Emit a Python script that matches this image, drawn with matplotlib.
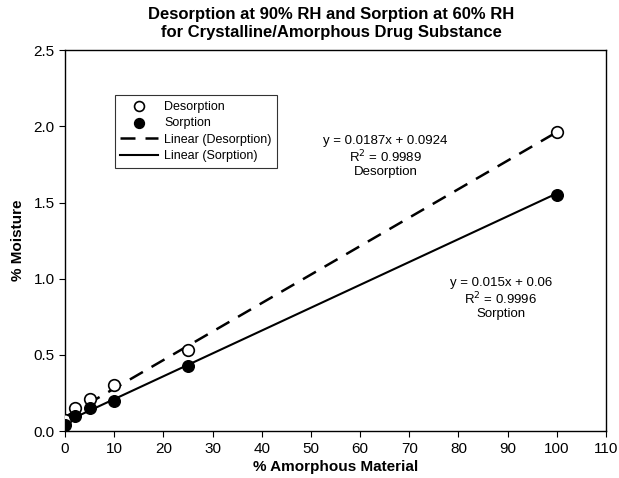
import matplotlib
matplotlib.use('Agg')
import matplotlib.pyplot as plt
import numpy as np

plt.rcParams['font.family'] = ['Liberation Sans', 'DejaVu Sans']

# data
amorphous = [0, 2, 5, 10, 25, 100]
desorption = [0.07, 0.15, 0.21, 0.30, 0.53, 1.96]
sorption = [0.04, 0.10, 0.15, 0.20, 0.43, 1.55]

# trendline coefficients (as printed on chart)
des_fit = (0.0187, 0.0924)
sorp_fit = (0.015, 0.06)

fig = plt.figure(figsize=(6.19, 4.78), dpi=100)
ax = fig.add_axes([0.105, 0.098, 0.874, 0.797])

# trendlines
xfit = np.array([0, 100])
ax.plot(xfit, des_fit[0] * xfit + des_fit[1], color='black', ls=(0, (6, 4)), lw=1.8,
        label='Linear (Desorption)', zorder=2)
ax.plot(xfit, sorp_fit[0] * xfit + sorp_fit[1], color='black', ls='-', lw=1.5,
        label='Linear (Sorption)', zorder=2)

# points
ax.scatter(amorphous, desorption, s=70, facecolor='white', edgecolor='black',
           lw=1.2, label='Desorption', zorder=3)
ax.scatter(amorphous, sorption, s=70, facecolor='black', edgecolor='black',
           label='Sorption', zorder=4)

ax.set_xlim(0, 110)
ax.set_ylim(0, 2.5)
ax.set_xticks(range(0, 111, 10))
ax.set_yticks(np.arange(0, 2.51, 0.5))
ax.set_yticklabels([f'{v:.1f}' for v in np.arange(0, 2.51, 0.5)])
ax.tick_params(direction='out', length=4, labelsize=11)
for s in ax.spines.values():
    s.set_linewidth(1.0)

ax.set_xlabel('% Amorphous Material', fontsize=11, fontweight='bold', labelpad=3)
ax.set_ylabel('% Moisture', fontsize=11, fontweight='bold', labelpad=6)
fig.suptitle('Desorption at 90% RH and Sorption at 60% RH\nfor Crystalline/Amorphous Drug Substance',
             fontsize=12, fontweight='bold', y=0.985, x=0.535)

handles, labels = ax.get_legend_handles_labels()
order = [2, 3, 0, 1]
leg = ax.legend([handles[i] for i in order], [labels[i] for i in order],
                loc='upper left', bbox_to_anchor=(0.092, 0.882), borderaxespad=0,
                fontsize=9, frameon=True, fancybox=False, edgecolor='black',
                handlelength=3, markerscale=0.85, borderpad=0.45, labelspacing=0.35,
                handletextpad=0.5)
leg.get_frame().set_linewidth(0.8)

ax.text(65.2, 1.80, 'y = 0.0187x + 0.0924\nR$^2$ = 0.9989\nDesorption', ha='center',
        va='center', fontsize=9.5, linespacing=1.1)
ax.text(88.6, 0.87, 'y = 0.015x + 0.06\nR$^2$ = 0.9996\nSorption', ha='center',
        va='center', fontsize=9.5, linespacing=1.1)

fig.savefig('out.png', dpi=100)
